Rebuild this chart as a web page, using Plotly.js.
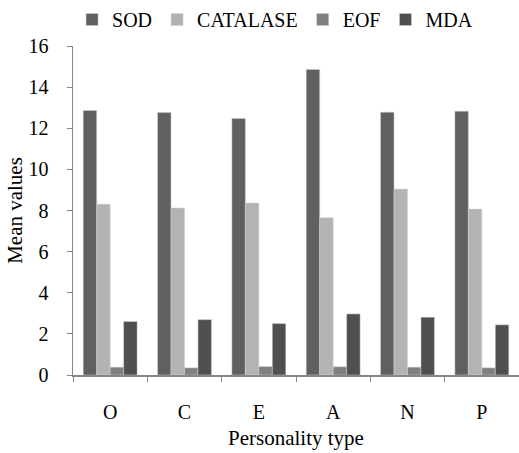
<!DOCTYPE html>
<html><head><meta charset="utf-8">
<script src="https://cdn.plot.ly/plotly-3.0.1.min.js"></script>
<style>body{margin:0;padding:0;background:#fff}#chart{width:519px;height:453px}</style>
</head><body><div id="chart"></div>
<script>
const categories = ["O", "C", "E", "A", "N", "P"];
const seriesNames = ["SOD", "CATALASE", "EOF", "MDA"];
const sod = [12.86, 12.76, 12.47, 14.86, 12.78, 12.83];
const catalase = [8.31, 8.12, 8.36, 7.65, 9.04, 8.07];
const eof = [0.38, 0.35, 0.41, 0.40, 0.38, 0.35];
const mda = [2.60, 2.69, 2.50, 2.97, 2.81, 2.44];
const yTicks = [0, 2, 4, 6, 8, 10, 12, 14, 16];

const colors = ["#606060", "#b3b3b3", "#808080", "#4f4f4f"];
const values = [sod, catalase, eof, mda];
const traces = values.map((v, i) => ({
  type: "bar", name: seriesNames[i], x: categories, y: v,
  marker: {color: colors[i], line: {color: "#d0d0d0", width: 0.5}}
}));
const fam = "Liberation Serif";
const f = (s) => ({family: fam, size: s, color: "#000"});
const layout = {
  width: 519, height: 453,
  margin: {l: 73, r: 0, t: 46, b: 78},
  paper_bgcolor: "#fff", plot_bgcolor: "#fff",
  barmode: "group", bargap: 0.275, bargroupgap: 0,
  font: f(20),
  showlegend: true,
  legend: {orientation: "h", x: 0.453, xanchor: "center", y: 1, yanchor: "top",
    yref: "container", font: f(20), itemwidth: 30, tracegroupgap: 0},
  xaxis: {type: "category", tickson: "boundaries", ticks: "outside", ticklen: 5,
    tickcolor: "#868686", showline: true, linecolor: "#868686", linewidth: 1.5,
    showgrid: false, zeroline: false, ticklabelstandoff: 18,
    tickfont: f(20),
    title: {text: "Personality type", font: f(21), standoff: 9}},
  yaxis: {range: [0, 16], tickvals: yTicks, ticks: "outside", ticklen: 5,
    tickcolor: "#868686", showline: true, linecolor: "#868686", linewidth: 1.5,
    showgrid: false, zeroline: false, ticklabelstandoff: 14,
    tickfont: f(20),
    title: {text: "Mean values", font: f(21), standoff: 0}}
};
Plotly.newPlot("chart", traces, layout, {displayModeBar: false, staticPlot: true});
</script></body></html>
